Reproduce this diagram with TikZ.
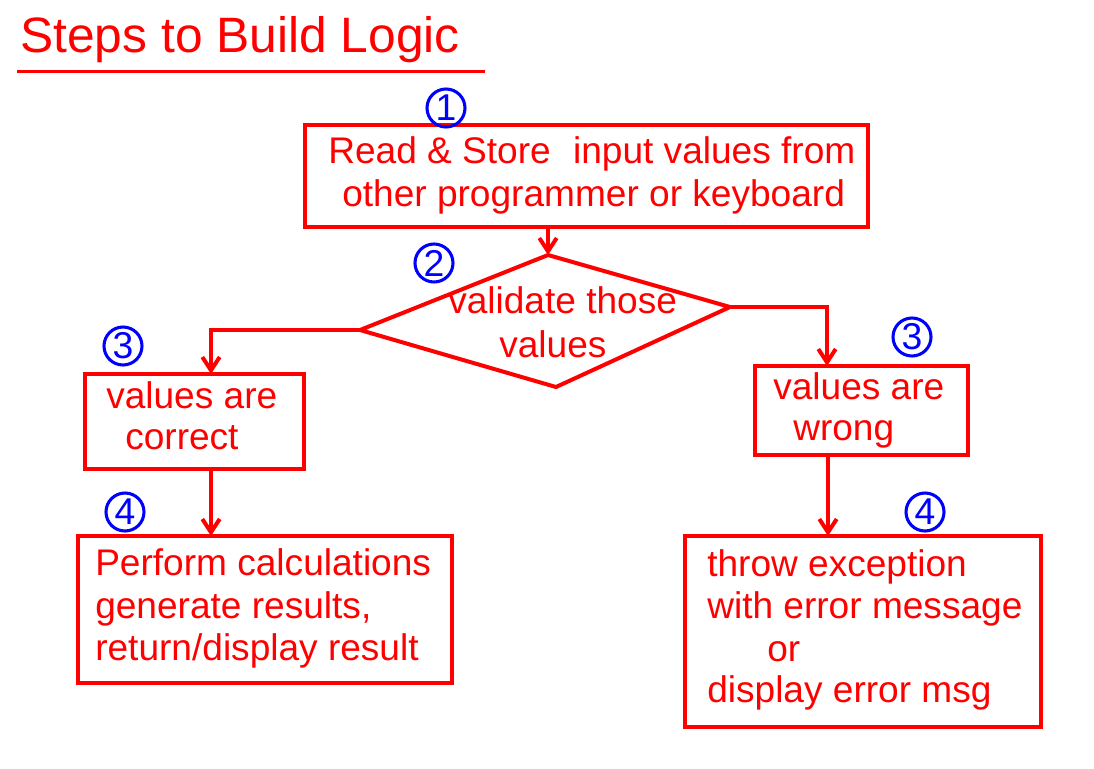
\documentclass[tikz,border=0pt]{standalone}
\usepackage{fontspec}
\setmainfont{Liberation Sans}
\usetikzlibrary{arrows.meta,calc}
\begin{document}
\begin{tikzpicture}[x=0.75pt,y=-0.75pt,
  box/.style={draw=red, line width=3pt, rectangle, inner sep=0, outer sep=0},
  txt/.style={anchor=base west, inner sep=0, text=red, font=\fontsize{27.8}{33}\selectfont},
  num/.style={circle, draw=blue, line width=2.3pt, text=blue, minimum size=28.5pt, inner sep=0, font=\fontsize{28}{28}\selectfont},
  conn/.style={draw=red, line width=3pt, -{Straight Barb[length=10pt,width=13pt]}}]
\useasboundingbox (0,0) rectangle (1094,768);
\fill[white] (0,0) rectangle (1094,768);

% title
\node[anchor=base west, inner sep=0, text=red, font=\fontsize{37.3}{40}\selectfont] (title) at (20,52) {Steps to Build Logic};
\draw[red, line width=2.25pt] (17,71) -- (485,71);

% boxes
\node[box, minimum width=422.25pt, minimum height=76.5pt] (top) at (586.5,176) {};
\node[box, minimum width=164.25pt, minimum height=71.25pt] (lbox) at (194.5,421.5) {};
\node[box, minimum width=159.75pt, minimum height=66.75pt] (rbox) at (861.5,410.5) {};
\node[box, minimum width=280.5pt, minimum height=110.25pt] (blbox) at (265,609.5) {};
\node[box, minimum width=267pt, minimum height=143.25pt] (brbox) at (863,631.5) {};

% diamond
\coordinate (dtop) at (548,255);
\coordinate (dleft) at (360,330);
\coordinate (dright) at (730,307);
\coordinate (dbot) at (556,387);
\draw[red, line width=3pt, line join=miter] (dtop) -- (dright) -- (dbot) -- (dleft) -- cycle;

% texts
\node[txt] (t1a) at (328,163) {Read \& Store\hspace{9pt} input values from};
\node[txt] (t1b) at (342,206) {other programmer or keyboard};
\node[txt] (t2a) at (448,313) {validate those};
\node[txt] (t2b) at (499,357) {values};
\node[txt] (t3a) at (106,408) {values are};
\node[txt] (t3b) at (125,449) {correct};
\node[txt] (t4a) at (773,399) {values are};
\node[txt] (t4b) at (793,440) {wrong};
\node[txt] (t5a) at (95,575) {Perform calculations};
\node[txt] (t5b) at (95,618) {generate results,};
\node[txt] (t5c) at (95,660) {return/display result};
\node[txt] (t6a) at (707,576) {throw exception};
\node[txt] (t6b) at (707,618) {with error message};
\node[txt] (t6c) at (767,661) {or};
\node[txt] (t6d) at (707,702) {display error msg};

% circled numbers
\node[num] (n1) at (446,108) {1};
\node[num] (n2) at (434,263) {2};
\node[num] (n3l) at (123,346) {3};
\node[num] (n3r) at (912,337) {3};
\node[num] (n4l) at (125,512) {4};
\node[num] (n4r) at (925,512) {4};

% connectors
\draw[conn] (dtop |- top.south) -- (dtop);
\draw[conn] (dleft) -| ([xshift=16.5*0.75pt]lbox.north);
\draw[conn] (dright) -| ([xshift=-34.5*0.75pt]rbox.north);
\draw[conn] ([xshift=16.5*0.75pt]lbox.south) -- ([xshift=16.5*0.75pt]lbox.south |- blbox.north);
\draw[conn] ([xshift=-33.5*0.75pt]rbox.south) -- ([xshift=-33.5*0.75pt]rbox.south |- brbox.north);
\end{tikzpicture}
\end{document}
